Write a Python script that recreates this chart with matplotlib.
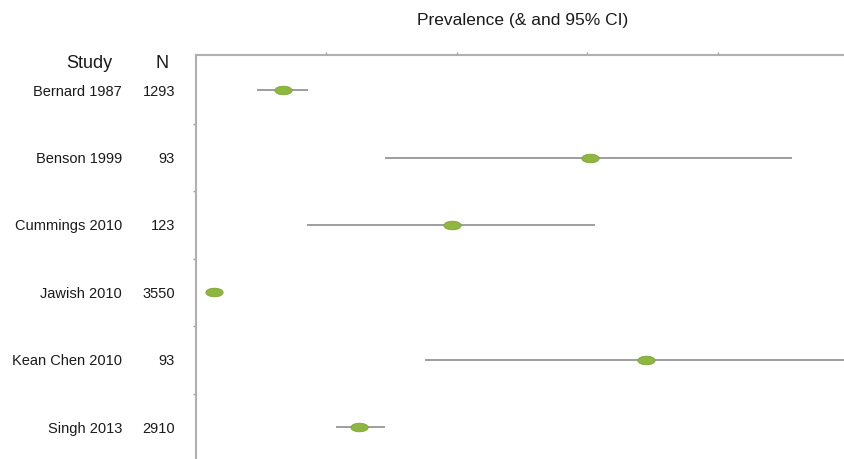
import matplotlib
matplotlib.use('Agg')
import matplotlib.pyplot as plt
from matplotlib.path import Path
from matplotlib.transforms import Affine2D, blended_transform_factory

studies = ['Bernard 1987', 'Benson 1999', 'Cummings 2010', 'Jawish 2010', 'Kean Chen 2010', 'Singh 2013']
n_values = ['1293', '93', '123', '3550', '93', '2910']
prevalence = [0.067, 0.302, 0.196, 0.014, 0.345, 0.125]
ci_low = [0.047, 0.145, 0.085, 0.008, 0.176, 0.107]
ci_high = [0.086, 0.457, 0.306, 0.020, 0.530, 0.145]

plt.rcParams['font.family'] = ['Liberation Sans', 'DejaVu Sans']

fig = plt.figure(figsize=(8.44, 4.59), dpi=100)
ax = fig.add_axes([196 / 844, 0, 1 - 196 / 844, 1 - 55 / 459])

rows = list(range(len(studies)))
ellipse = Path.unit_circle().transformed(Affine2D().scale(1.0, 0.5))

ax.hlines(rows, ci_low, ci_high, color='#8e8e8e', lw=1.2, zorder=2)
ax.plot(prevalence, rows, linestyle='none', marker=ellipse, markersize=12.5,
        markerfacecolor='#8fb640', markeredgecolor='#74a030', markeredgewidth=0.5, zorder=3)

ax.set_xlim(0, 0.497)
ax.set_ylim(5.47, -0.52)

# spines: only top and left, light gray
for side in ['right', 'bottom']:
    ax.spines[side].set_visible(False)
for side in ['top', 'left']:
    ax.spines[side].set_color('#b0b0b0')
    ax.spines[side].set_linewidth(1.5)

ax.xaxis.tick_top()
ax.set_xticks([0.1, 0.2, 0.3, 0.4])
ax.set_yticks([0.5, 1.5, 2.5, 3.5, 4.5])
ax.tick_params(axis='both', length=2.5, width=1, color='#a0a0a0', labelleft=False, labeltop=False,
               labelbottom=False, direction='out')

# table text on the left
trans = blended_transform_factory(fig.transFigure, ax.transData)
for i, (name, n) in enumerate(zip(studies, n_values)):
    ax.text(122 / 844, i, name, transform=trans, ha='right', va='center_baseline', fontsize=10.5, color='#1a1a1a')
    ax.text(175 / 844, i, n, transform=trans, ha='right', va='center_baseline', fontsize=10.5, color='#1a1a1a')

fig.text(112 / 844, 1 - 61 / 459, 'Study', ha='right', va='center_baseline', fontsize=13, color='#1a1a1a')
fig.text(162 / 844, 1 - 61 / 459, 'N', ha='center', va='center_baseline', fontsize=13, color='#1a1a1a')
fig.text(523 / 844, 1 - 19 / 459, 'Prevalence (& and 95% CI)', ha='center', va='center_baseline',
         fontsize=12.5, color='#1a1a1a')

fig.savefig('out.png', dpi=100)
